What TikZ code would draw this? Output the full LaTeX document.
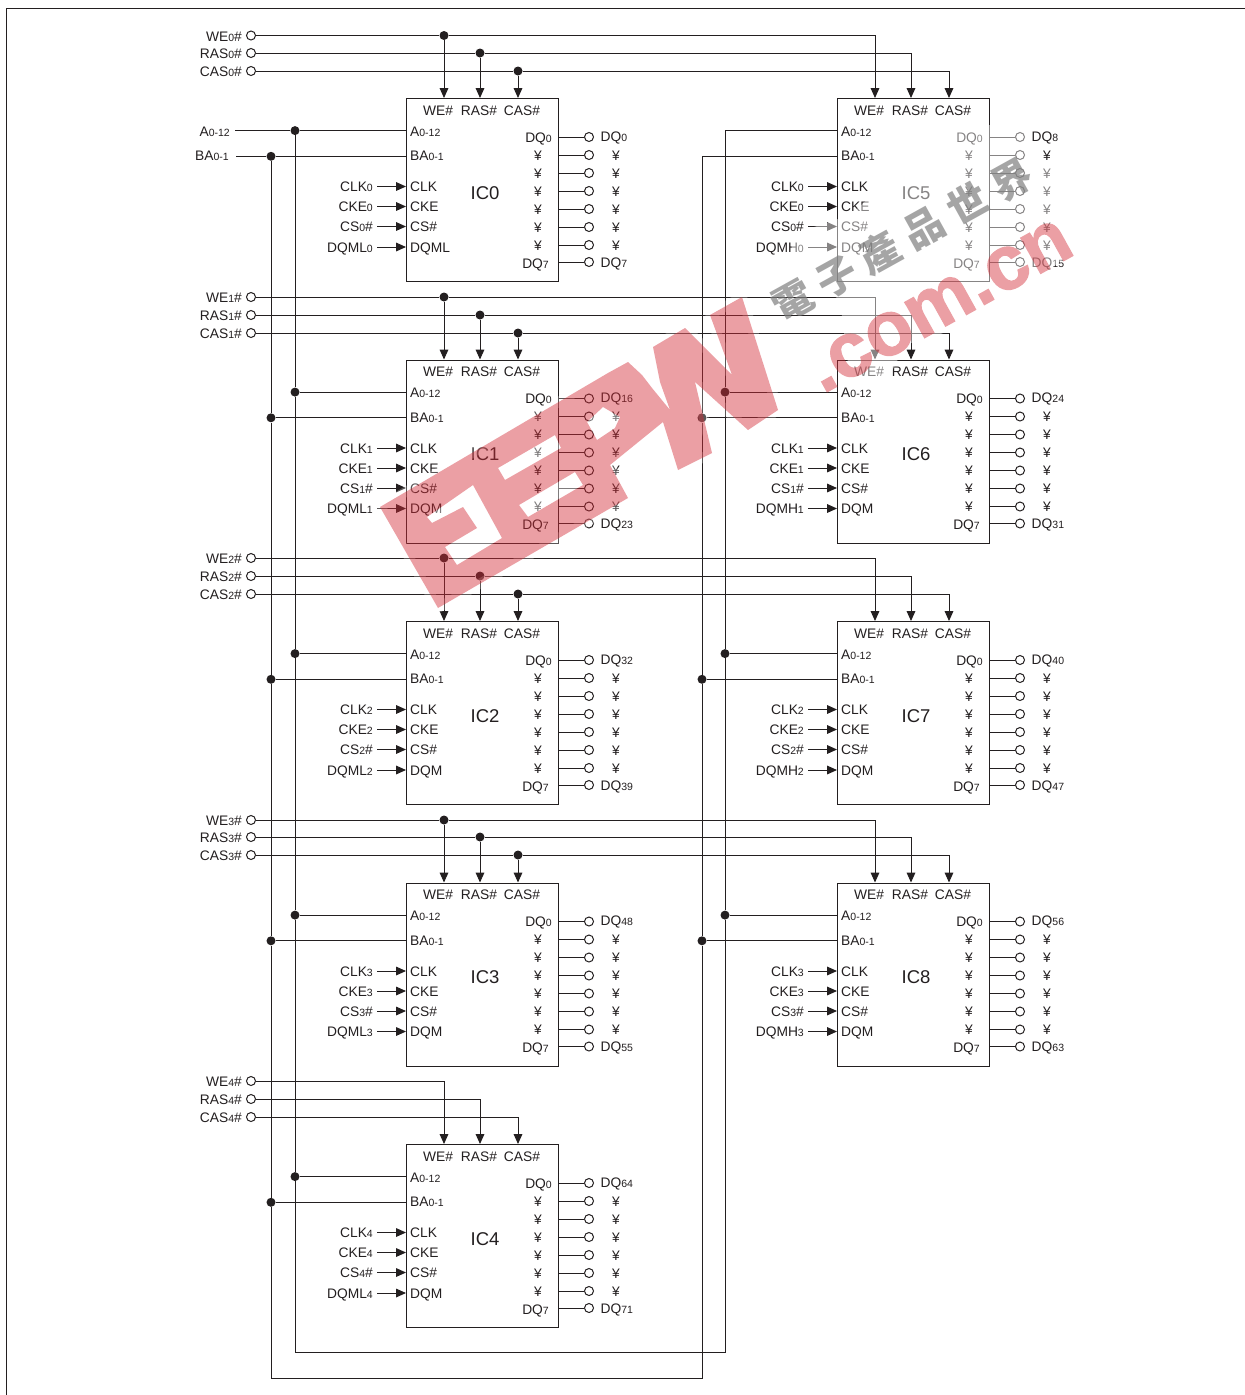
\documentclass[tikz,border=0pt]{standalone}
\usepackage{fontspec}
\setmainfont{Liberation Sans}
\newfontfamily\cjkf{Noto Sans CJK TC}
\newfontfamily\wmf[UprightFont=* Bold,FakeBold=1.5]{Liberation Sans}
\usetikzlibrary{arrows.meta,calc}
\definecolor{ink}{RGB}{35,31,32}
\definecolor{wmred}{RGB}{211,44,55}
\newcommand\sm[1]{{\fontsize{10.5}{10.5}\selectfont #1}}
\tikzset{
  wire/.style={draw=ink,line width=1pt},
  tip/.style={wire,-{Stealth[length=10pt,width=8.7pt,inset=0pt]}},
  chipbox/.style={draw=ink,line width=1pt,fill=none},
  dot/.style={circle,fill=ink,draw=none,minimum size=9pt,inner sep=0pt},
  pin/.style={circle,draw=ink,line width=1pt,fill=white,minimum size=9pt,inner sep=0pt},
  txt/.style={inner sep=0pt,text=ink,font=\fontsize{13.8}{14}\selectfont},
  ictxt/.style={inner sep=0pt,text=ink,font=\fontsize{18.5}{19}\selectfont},
}
% #1 id, #2 x, #3 y, #4 title, #5 index, #6 left-hand mask label, #7 inner mask label, #8 first DQ, #9 last DQ
\newcommand\chip[9]{%
\begin{scope}[shift={(#2,#3)},name prefix=#1-]
  \node[chipbox,minimum width=152pt,minimum height=183pt,inner sep=0pt,anchor=north west] (box) at (0,0) {};
  \coordinate (we) at (38,0); \coordinate (ras) at (74,0); \coordinate (cas) at (112,0);
  \coordinate (a) at (0,32.6); \coordinate (ba) at (0,58.3);
  \node[txt,anchor=base] (twe) at (32,17) {WE\#};
  \node[txt,anchor=base] (tras) at (73,17) {RAS\#};
  \node[txt,anchor=base] (tcas) at (116,17) {CAS\#};
  \node[txt,anchor=base west] (ta) at (4,38) {A\sm{0-12}};
  \node[txt,anchor=base west] (tba) at (4,62.5) {BA\sm{0-1}};
  \node[ictxt,anchor=base] (title) at (79,101) {#4};
  \foreach \n/\yy/\inner/\outer in {clk/88.5/CLK/CLK\sm{#5},cke/108.5/CKE/CKE\sm{#5},cs/128.5/CS\#/CS\sm{#5}\#,dqm/149/#7/#6\sm{#5}}{
    \node[txt,anchor=base east] (o\n) at (-33,\yy+5) {\outer};
    \node[txt,anchor=base west] (i\n) at (4,\yy+5) {\inner};
    \coordinate (s\n) at (-29,\yy);
    \coordinate (e\n) at (0,\yy);
    \draw[tip] (s\n) -- (e\n);
  }
  \foreach \i/\yy in {0/39,1/57,2/75,3/93,4/111,5/129,6/147,7/164}{
    \coordinate (q\i) at (152,\yy);
    \node[pin] (c\i) at (183,\yy) {};
    \draw[wire] (q\i) -- (c\i);
  }
  \foreach \i/\yy in {1/57,2/75,3/93,4/111,5/129,6/147}{
    \node[txt,anchor=base] (yl\i) at (132,\yy+5) {¥};
    \node[txt,anchor=base] (yr\i) at (210,\yy+5) {¥};
  }
  \node[txt,anchor=base east] (dl0) at (146,44) {DQ\sm{0}};
  \node[txt,anchor=base east] (dl7) at (143,170) {DQ\sm{7}};
  \node[txt,anchor=base west] (dr0) at (194.5,43) {DQ\sm{#8}};
  \node[txt,anchor=base west] (dr7) at (194.5,169) {DQ\sm{#9}};
\end{scope}}
\newcommand\busterm[4]{%
  \node[pin] (tW#1) at (251,#2) {};
  \node[pin] (tR#1) at (251,#3) {};
  \node[pin] (tC#1) at (251,#4) {};
  \node[txt,anchor=base east] (lW#1) at (242,#2+5.5) {WE\sm{#1}\#};
  \node[txt,anchor=base east] (lR#1) at (242,#3+5.5) {RAS\sm{#1}\#};
  \node[txt,anchor=base east] (lC#1) at (242,#4+5.5) {CAS\sm{#1}\#};
}
% #1 index, #2 #3 #4 bus ys, #5 left chip, #6 right chip
\newcommand\busrow[6]{%
  \busterm{#1}{#2}{#3}{#4}
  \node[dot] (jW#1) at (444,#2) {};
  \node[dot] (jR#1) at (480,#3) {};
  \node[dot] (jC#1) at (518,#4) {};
  \draw[wire] (tW#1) -- (jW#1);
  \draw[wire] (tR#1) -- (jR#1);
  \draw[wire] (tC#1) -- (jC#1);
  \draw[tip] (jW#1) -- (#5-we);
  \draw[tip] (jR#1) -- (#5-ras);
  \draw[tip] (jC#1) -- (#5-cas);
  \draw[tip] (jW#1) -| (#6-we);
  \draw[tip] (jR#1) -| (#6-ras);
  \draw[tip] (jC#1) -| (#6-cas);
}
\begin{document}
\begin{tikzpicture}[x=1pt,y=-1pt]
\useasboundingbox (0,0) rectangle (1245,1395);
\fill[white] (0,0) rectangle (1245,1395);
\coordinate (fa) at (1245,8); \coordinate (fb) at (6,8); \coordinate (fc) at (6,1395);
\draw[wire] (fa) -- (fb) -- (fc);

\chip{ic0}{406}{98}{IC0}{0}{DQML}{DQML}{0}{7}
\chip{ic1}{406}{359.5}{IC1}{1}{DQML}{DQM}{16}{23}
\chip{ic2}{406}{621}{IC2}{2}{DQML}{DQM}{32}{39}
\chip{ic3}{406}{882.5}{IC3}{3}{DQML}{DQM}{48}{55}
\chip{ic4}{406}{1144}{IC4}{4}{DQML}{DQM}{64}{71}
\chip{ic5}{837}{98}{IC5}{0}{DQMH}{DQM}{8}{15}
\chip{ic6}{837}{359.5}{IC6}{1}{DQMH}{DQM}{24}{31}
\chip{ic7}{837}{621}{IC7}{2}{DQMH}{DQM}{40}{47}
\chip{ic8}{837}{882.5}{IC8}{3}{DQMH}{DQM}{56}{63}

\busrow{0}{35.5}{53}{71}{ic0}{ic5}
\busrow{1}{297}{315}{333}{ic1}{ic6}
\busrow{2}{558}{576}{594}{ic2}{ic7}
\busrow{3}{820}{837}{855}{ic3}{ic8}
\busterm{4}{1081}{1099}{1117}
\draw[tip] (tW4) -| (ic4-we);
\draw[tip] (tR4) -| (ic4-ras);
\draw[tip] (tC4) -| (ic4-cas);

% address buses
\coordinate (vA) at (295,0); \coordinate (vB) at (271,0);
\coordinate (vAr) at (725,0); \coordinate (vBr) at (702,0);
\foreach \i in {0,...,4}{
  \node[dot] (jA\i) at (ic\i-a -| vA) {};
  \node[dot] (jB\i) at (ic\i-ba -| vB) {};
  \draw[wire] (jA\i) -- (ic\i-a);
  \draw[wire] (jB\i) -- (ic\i-ba);
}
\foreach \i in {6,7,8}{
  \node[dot] (jA\i) at (ic\i-a -| vAr) {};
  \node[dot] (jB\i) at (ic\i-ba -| vBr) {};
  \draw[wire] (jA\i) -- (ic\i-a);
  \draw[wire] (jB\i) -- (ic\i-ba);
}
\node[txt,anchor=base east] (lA) at (230,136) {A\sm{0-12}};
\node[txt,anchor=base east] (lB) at (229,160) {BA\sm{0-1}};
\coordinate (sA) at (235,0|-ic0-a); \coordinate (sB) at (236,0|-ic0-ba);
\draw[wire] (sA) -- (jA0);
\draw[wire] (sB) -- (jB0);
\coordinate (cA1) at (295,1352); \coordinate (cA2) at (725,1352);
\coordinate (cB1) at (271,1378); \coordinate (cB2) at (702,1378);
\draw[wire] (jA0) -- (jA1) -- (jA2) -- (jA3) -- (jA4) -- (cA1) -- (cA2) -- (jA8) -- (jA7) -- (jA6);
\draw[wire] (jB0) -- (jB1) -- (jB2) -- (jB3) -- (jB4) -- (cB1) -- (cB2) -- (jB8) -- (jB7) -- (jB6);
\draw[wire] (jA6) |- (ic5-a);
\draw[wire] (jB6) |- (ic5-ba);

% watermark
\def\wmoutline{(380,507) -- (608,373) -- (628,362) -- (642,375) -- (652,388) -- (670,410) -- (660,382) -- (653,347) -- (685,328) -- (732,375) -- (710,315) -- (742,297) -- (778,410) -- (748,430) -- (695,382) -- (712,453) -- (678,470) -- (663,422) -- (610,465) -- (628,498) -- (438,608) -- cycle}
\def\wmholes{(587,422) -- (603,407) -- (620,417) -- (615,428) -- (597,440) -- cycle
  (498,468) -- (555,435) -- (561,448) -- (505,480) -- cycle
  (519,505) -- (575,472) -- (583,485) -- (528,517) -- cycle
  (427,517) -- (473,485) -- (502,538) -- (457,565) -- (445,547) -- (477,528) -- (463,507) -- (432,523) -- cycle}
\path[draw=white,line width=10pt,opacity=.25,line join=round] \wmoutline;
\path[fill=white,opacity=.42] \wmholes;
\path[fill=white,opacity=.45] (790,235) -- (850,215) -- (895,175) -- (950,125) -- (1025,125) -- (1030,165) -- (1075,170) -- (1075,250) -- (985,320) -- (905,345) -- (885,385) -- (850,380) -- (840,300) -- (795,270) -- cycle;
\path[fill=wmred,fill opacity=.45,even odd rule] \wmoutline \wmholes;
\node[inner sep=0pt,rotate=29,text=gray,text opacity=.7,font=\cjkf\bfseries\fontsize{40}{40}\selectfont] (wmcn) at (902,240) {電\kern10pt 子\kern10pt 產\kern10pt 品\kern10pt 世\kern10pt 界};
\begin{scope}[transparency group,opacity=.45]
\node[inner sep=0pt,rotate=29,text=wmred,font=\wmf\fontsize{77}{77}\selectfont] (wmcom) at (940,306) {.com.cn};
\end{scope}
\end{tikzpicture}
\end{document}
